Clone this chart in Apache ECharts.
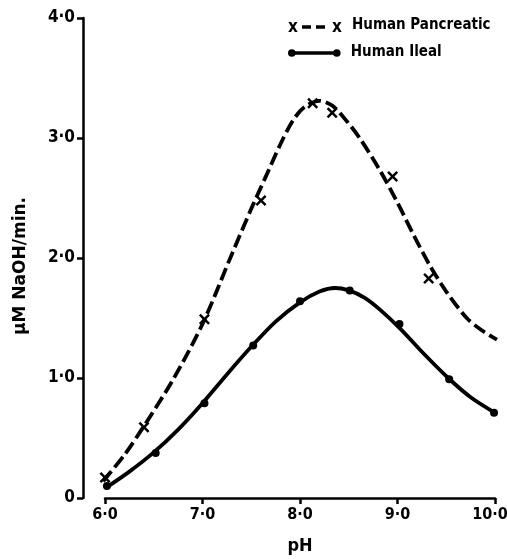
<!DOCTYPE html>
<html>
<head>
<meta charset="utf-8">
<script src="https://cdn.jsdelivr.net/npm/echarts@6/dist/echarts.min.js"></script>
<style>html,body{margin:0;padding:0;background:#fff}#c{width:507px;height:559px}</style>
</head>
<body>
<div id="c"></div>
<script>
// measured points
const pancreaticPH = [6.0, 6.4, 7.02, 7.6, 8.13, 8.33, 8.95, 9.32, 10.02];
const pancreaticRate = [0.17, 0.59, 1.49, 2.48, 3.29, 3.21, 2.68, 1.83, 1.31];
const ilealPH = [6.02, 6.52, 7.02, 7.52, 8.0, 8.51, 9.02, 9.53, 9.99];
const ilealRate = [0.1, 0.375, 0.79, 1.27, 1.64, 1.73, 1.45, 0.99, 0.71];
// fitted curves
const pancreaticCurvePH = [5.98, 6.2, 6.4, 6.7, 7.0, 7.3, 7.5, 7.65, 7.8, 7.93, 8.05, 8.2, 8.33, 8.48, 8.62, 8.82, 9.0, 9.16, 9.33, 9.5, 9.71, 9.86, 10.02];
const pancreaticCurveRate = [0.14, 0.36, 0.6, 0.99, 1.45, 2.03, 2.41, 2.68, 2.95, 3.15, 3.26, 3.31, 3.27, 3.14, 2.99, 2.73, 2.46, 2.2, 1.94, 1.72, 1.5, 1.4, 1.32];
const ilealCurvePH = [6.0, 6.25, 6.5, 6.75, 7.0, 7.25, 7.5, 7.75, 8.0, 8.2, 8.36, 8.5, 8.66, 8.82, 9.03, 9.26, 9.52, 9.75, 10.0];
const ilealCurveRate = [0.08, 0.22, 0.38, 0.57, 0.79, 1.03, 1.26, 1.47, 1.63, 1.72, 1.75, 1.73, 1.67, 1.57, 1.41, 1.21, 1.0, 0.84, 0.71];
// tick labels
const xTickLabels = ['6·0', '7·0', '8·0', '9·0', '10·0'];
const yTickLabels = ['0', '1·0', '2·0', '3·0', '4·0'];
const seriesNames = ['Human Pancreatic', 'Human Ileal'];
const xTitle = 'pH';
const yTitle = 'μM NaOH/min.';

const FONT = "'DejaVu Sans Condensed', 'DejaVu Sans', sans-serif";
const FONT_WIDE = "'DejaVu Sans', sans-serif";
const zip = (a, b) => a.map((v, i) => [v, b[i]]);
const crossPath = 'path://M0,1.6L1.6,0L5,3.4L8.4,0L10,1.6L6.6,5L10,8.4L8.4,10L5,6.6L1.6,10L0,8.4L3.4,5Z';
const labelFont = { fontFamily: FONT, fontWeight: 'bold', fontSize: 16, color: '#000' };

const chart = echarts.init(document.getElementById('c'));
chart.setOption({
  animation: false,
  backgroundColor: '#fff',
  grid: { left: 105, right: 12, top: 18, bottom: 61, outerBoundsMode: 'none', containLabel: false },
  xAxis: {
    type: 'value', min: 6, max: 10, interval: 1, offset: 2,
    name: xTitle, nameLocation: 'middle', nameGap: 37,
    nameTextStyle: { fontFamily: FONT, fontWeight: 'bold', fontSize: 18, color: '#000' },
    axisLine: { lineStyle: { color: '#000', width: 2.5 } },
    axisTick: { length: 6, lineStyle: { color: '#000', width: 2.5 } },
    axisLabel: Object.assign({ margin: 7,
      formatter: v => {
        const i = Math.round(v - 6);
        return i === xTickLabels.length - 1 ? '{e|' + xTickLabels[i] + '}' : xTickLabels[i];
      },
      rich: { e: Object.assign({ padding: [0, 10, 0, 0] }, labelFont) } }, labelFont),
    splitLine: { show: false }
  },
  yAxis: {
    type: 'value', min: 0, max: 4, interval: 1, offset: 22,
    name: yTitle, nameLocation: 'middle', nameGap: 54, nameRotate: 90,
    nameTextStyle: { fontFamily: FONT_WIDE, fontWeight: 'bold', fontSize: 17, color: '#000', padding: [0, 16, 0, 0] },
    axisLine: { show: true, lineStyle: { color: '#000', width: 2.5 } },
    axisTick: { show: true, length: 6, lineStyle: { color: '#000', width: 2.5 } },
    axisLabel: { margin: 8, fontFamily: FONT, fontWeight: 'bold', fontSize: 17, color: '#000',
      formatter: v => yTickLabels[Math.round(v)] },
    splitLine: { show: false }
  },
  series: [
    { name: seriesNames[0] + ' fit', type: 'line', smooth: 0.3, showSymbol: false, silent: true,
      data: zip(pancreaticCurvePH, pancreaticCurveRate),
      lineStyle: { color: '#000', width: 3.8, type: [13, 5] } },
    { name: seriesNames[1] + ' fit', type: 'line', smooth: 0.3, showSymbol: false, silent: true,
      data: zip(ilealCurvePH, ilealCurveRate),
      lineStyle: { color: '#000', width: 3.8 } },
    { name: seriesNames[0], type: 'scatter', symbol: crossPath, symbolSize: 11,
      data: zip(pancreaticPH, pancreaticRate), itemStyle: { color: '#000', opacity: 1 } },
    { name: seriesNames[1], type: 'scatter', symbol: 'circle', symbolSize: 8,
      data: zip(ilealPH, ilealRate), itemStyle: { color: '#000', opacity: 1 } }
  ],
  graphic: [
    { type: 'group', left: 288, top: 18, children: [
      { type: 'text', x: 0, y: 0, style: { text: 'x', font: "bold 17px " + FONT, fill: '#000' } },
      { type: 'line', shape: { x1: 14, y1: 8, x2: 42, y2: 8 }, style: { stroke: '#000', lineWidth: 3.5, lineDash: [9, 5] } },
      { type: 'text', x: 44, y: 0, style: { text: 'x', font: "bold 17px " + FONT, fill: '#000' } },
      { type: 'text', x: 64, y: -1, style: { text: seriesNames[0], font: "bold 15px " + FONT, fill: '#000' } }
    ]},
    { type: 'group', left: 288, top: 45, children: [
      { type: 'circle', shape: { cx: 5, cy: 7, r: 3.8 }, style: { fill: '#000' } },
      { type: 'line', shape: { x1: 5, y1: 7, x2: 50, y2: 7 }, style: { stroke: '#000', lineWidth: 3.5 } },
      { type: 'circle', shape: { cx: 50, cy: 7, r: 3.8 }, style: { fill: '#000' } },
      { type: 'text', x: 64, y: -1, style: { text: seriesNames[1], font: "bold 15px " + FONT, fill: '#000' } }
    ]}
  ]
});
</script>
</body>
</html>
